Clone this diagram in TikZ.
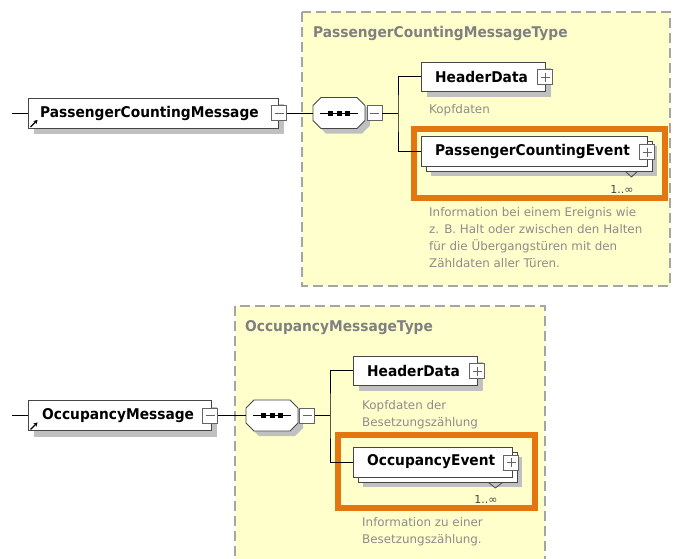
\documentclass[tikz,border=0pt]{standalone}
\usepackage{fontspec}
\setmainfont{DejaVu Sans}
\newfontfamily\lblfont{DejaVu Sans}[FakeStretch=0.93]
\usetikzlibrary{arrows.meta,calc,shadows}
\definecolor{yel}{RGB}{255,255,204}
\definecolor{dashc}{RGB}{165,165,165}
\definecolor{orng}{RGB}{228,117,15}
\definecolor{bord}{RGB}{70,70,70}
\definecolor{shad}{RGB}{192,192,192}
\definecolor{titlec}{RGB}{128,128,128}
\definecolor{descc}{RGB}{140,140,140}
\definecolor{pmc}{RGB}{100,100,100}
\newcommand\seqoct[1]{%
  \begin{scope}[shift={(#1.center)}]
    \fill[shad] (-21,-2.5) -- (-13,-10.5) -- (23,-10.5) -- (31,-2.5) -- (31,12.5) -- (23,20.5) -- (-13,20.5) -- (-21,12.5) -- cycle;
    \filldraw[fill=white, draw=bord, line width=0.9pt] (-26,-7.5) -- (-18,-15.5) -- (18,-15.5) -- (26,-7.5) -- (26,7.5) -- (18,15.5) -- (-18,15.5) -- (-26,7.5) -- cycle;
    \draw[line width=0.9pt] (-19,0) -- (19,0);
    \foreach \dx in {-8.5,0,8.5} \fill (\dx-2.5,-2.5) rectangle (\dx+2.5,2.5);
  \end{scope}}
\tikzset{
  elem/.style={draw=bord, fill=white, line width=0.9pt, inner sep=0pt, minimum height=30pt,
    drop shadow={shadow xshift=6pt, shadow yshift=-6pt, fill=shad, opacity=1}},
  elemstack/.style={draw=bord, fill=white, line width=0.9pt, inner sep=0pt, minimum height=30pt,
    drop shadow={shadow xshift=10pt, shadow yshift=-10pt, fill=shad, opacity=1},
    copy shadow={shadow xshift=5pt, shadow yshift=-5pt, fill=white, draw=bord}},
  lbl/.style={anchor=west, inner sep=0pt, font=\lblfont\fontsize{14.8}{17}\selectfont\bfseries},
  ttl/.style={lbl, text=titlec},
  desc/.style={anchor=west, inner sep=0pt, text=descc, font=\fontsize{11.9}{17}\selectfont, align=left},
  descm/.style={desc, anchor=north west},
  mult/.style={inner sep=0pt, text=bord, font=\fontsize{11}{13}\selectfont},
  pm/.style={draw=pmc, fill=white, line width=0.8pt, minimum size=15pt, inner sep=0pt},
  minus/.style={pm, path picture={\draw[pmc, line width=0.8pt] ([xshift=3pt]path picture bounding box.west) -- ([xshift=-3pt]path picture bounding box.east);}},
  plus/.style={pm, path picture={\draw[pmc, line width=0.8pt] ([xshift=3pt]path picture bounding box.west) -- ([xshift=-3pt]path picture bounding box.east); \draw[pmc, line width=0.8pt] ([yshift=-3pt]path picture bounding box.north) -- ([yshift=3pt]path picture bounding box.south);}},
  seqnode/.style={inner sep=0pt, minimum width=52pt, minimum height=31pt},
  conn/.style={line width=1pt, draw=black},
  typebox/.style={fill=yel, draw=dashc, line width=1.3pt, dash pattern=on 10pt off 5pt},
  hilite/.style={draw=orng, line width=6pt, inner sep=0pt},
  refarrow/.style={line width=1.4pt, -{Stealth[length=4pt,width=4.5pt]}},
  notch/.style={draw=bord, line width=0.8pt}
}
\begin{document}
\begin{tikzpicture}[x=1pt,y=-1pt]
\useasboundingbox (0,0) rectangle (673,558);
% ---------- top diagram ----------
\draw[typebox] (302,12) rectangle (670,286);
\node[ttl] (t1) at (313,33) {PassengerCountingMessageType};
\node[hilite, minimum width=251pt, minimum height=69pt] (hl1) at (539.5,163.5) {};

\coordinate (s1) at (12,113);
\node[elem, minimum width=250pt] (pcm) at (153,113) {};
\node[lbl] (pcmT) at (40,113) {PassengerCountingMessage};
\draw[refarrow] ($(pcm.south west)+(3,-1.5)$) -- ($(pcm.south west)+(10,-8.5)$);
\node[minus] (pcmM) at (279,113) {};

\node[seqnode] (seq1) at (339,113) {};
\seqoct{seq1}
\node[minus] (seq1M) at (374.5,113) {};
\coordinate (j1) at (398,113);

\node[elem, minimum width=124pt, minimum height=29pt] (hd1) at (483,76.5) {};
\node[lbl] (hd1T) at (435,76.5) {HeaderData};
\node[plus] (hd1P) at (545,77) {};
\node[desc] (hd1D) at (429,110) {Kopfdaten};

\node[elemstack, minimum width=226pt] (pce) at (534,151) {};
\node[lbl] (pceT) at (435,151) {PassengerCountingEvent};
\node[plus] (pceP) at (647,152) {};
\draw[notch] ($(pce.south east)+(-22,5)$) -- ($(pce.south east)+(-16,10.5)$) -- ($(pce.south east)+(-10,5)$);
\node[mult] (pceMu) at (622,189) {1..∞};
\node[descm] (pceD) at (429,207) {Information bei einem Ereignis wie\\z. B. Halt oder zwischen den Halten\\für die Übergangstüren mit den\\Zähldaten aller Türen.};

\draw[conn] (s1) -- (pcm.west);
\draw[conn] (pcmM.east) -- (seq1.west);
\draw[conn] (seq1M.east) -- (j1);
\draw[conn] (hd1.west) -| (j1) |- (pce.west);

% ---------- bottom diagram ----------
\draw[typebox] (235,306) rectangle (545,566);
\node[ttl] (t2) at (245,328) {OccupancyMessageType};
\node[hilite, minimum width=197pt, minimum height=73pt] (hl2) at (436.5,471.5) {};

\coordinate (s2) at (12,415.5);
\node[elem, minimum width=183pt] (om) at (119.5,415.5) {};
\node[lbl] (omT) at (42,415.5) {OccupancyMessage};
\draw[refarrow] ($(om.south west)+(3,-1.5)$) -- ($(om.south west)+(10,-8.5)$);
\node[minus] (omM) at (210,415.5) {};

\node[seqnode] (seq2) at (272,415.5) {};
\seqoct{seq2}
\node[minus] (seq2M) at (307,415.5) {};
\coordinate (j2) at (330,415.5);

\node[elem, minimum width=124pt, minimum height=29pt] (hd2) at (415,370.5) {};
\node[lbl] (hd2T) at (367,370.5) {HeaderData};
\node[plus] (hd2P) at (477,371) {};
\node[descm] (hd2D) at (362,400) {Kopfdaten der\\Besetzungszählung};

\node[elemstack, minimum width=159pt] (oe) at (432.5,462) {};
\node[lbl] (oeT) at (367,462) {OccupancyEvent};
\node[plus] (oeP) at (511,462.5) {};
\draw[notch] ($(oe.south east)+(-24,5)$) -- ($(oe.south east)+(-17,10.5)$) -- ($(oe.south east)+(-10,5)$);
\node[mult] (oeMu) at (486,499) {1..∞};
\node[descm] (oeD) at (362,517) {Information zu einer\\Besetzungszählung.};

\draw[conn] (s2) -- (om.west);
\draw[conn] (omM.east) -- (seq2.west);
\draw[conn] (seq2M.east) -- (j2);
\draw[conn] (hd2.west) -| (j2) |- (oe.west);
\end{tikzpicture}
\end{document}
